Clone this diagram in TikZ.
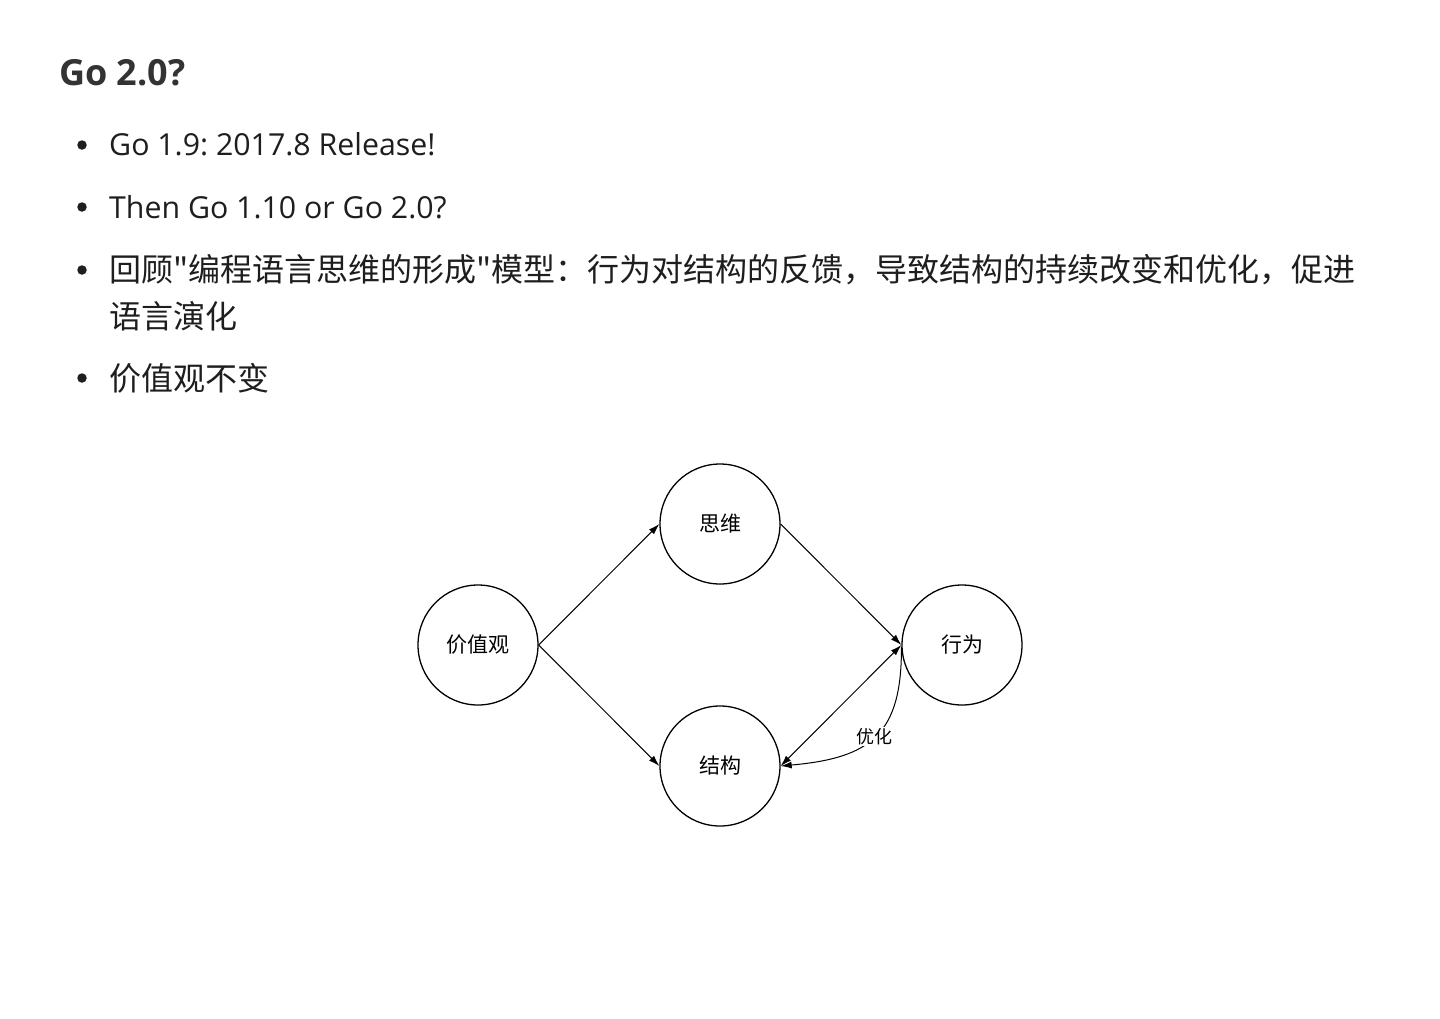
\documentclass[tikz,border=0pt]{standalone}
\usepackage{fontspec}
\setmainfont{Open Sans}
\newfontfamily\cjk{Noto Sans CJK SC}
\usetikzlibrary{arrows.meta}
\frenchspacing
\definecolor{headc}{HTML}{333333}
\definecolor{txtc}{HTML}{1E1E1E}
\tikzset{
  headtxt/.style={anchor=base west, inner sep=0, text=headc, font=\fontsize{36}{40}\selectfont\bfseries},
  bultxt/.style={anchor=base west, inner sep=0, text=txtc, font=\fontsize{30.3}{36}\selectfont},
  cjktxt/.style={anchor=west, inner sep=0, text=txtc, font=\fontsize{32}{38}\selectfont\cjk},
  bdot/.style={circle, fill=txtc, inner sep=0, minimum size=9.5pt},
  concept/.style={circle, draw=black, line width=1.3pt, minimum size=120pt, inner sep=0, font=\fontsize{21}{24}\selectfont\cjk},
  arr/.style={line width=1pt, -{Latex[length=11pt,width=7pt]}},
  darr/.style={line width=1pt, {Latex[length=11pt,width=7pt]}-{Latex[length=11pt,width=7pt]}},
}
\begin{document}
\begin{tikzpicture}[x=1pt,y=-1pt]
\useasboundingbox[fill=white] (0,0) rectangle (1440,1018);
\node[headtxt] (title) at (59,85) {Go 2.0?};
\node[bdot] (d1) at (82,145) {};
\node[bultxt] (b1) at (109,155) {Go 1.9: 2017.8 Release!};
\node[bdot] (d2) at (82,207) {};
\node[bultxt] (b2) at (109,218) {Then Go 1.10 or Go 2.0?};
\node[bdot] (d3) at (82,270) {};
\node[cjktxt] (b3) at (109,270) {回顾"编程语言思维的形成"模型：行为对结构的反馈，导致结构的持续改变和优化，促进};
\node[cjktxt] (b3b) at (109,316) {语言演化};
\node[bdot] (d4) at (82,378) {};
\node[cjktxt] (b4) at (109,378) {价值观不变};

\node[concept] (jz) at (478,645) {价值观};
\node[concept] (sw) at (720,524) {思维};
\node[concept] (xw) at (962,645) {行为};
\node[concept] (jg) at (720,766) {结构};

\draw[arr] (jz.east) -- (sw.west);
\draw[arr] (jz.east) -- (jg.west);
\draw[arr] (sw.east) -- (xw.west);
\draw[darr] (jg.east) -- (xw.west);
\draw[arr] (xw.182) .. controls (902,735) and (870,758) .. node[pos=0.5, fill=white, inner sep=1pt, font=\fontsize{18}{20}\selectfont\cjk] (yh) {优化} (jg.east);
\end{tikzpicture}
\end{document}
